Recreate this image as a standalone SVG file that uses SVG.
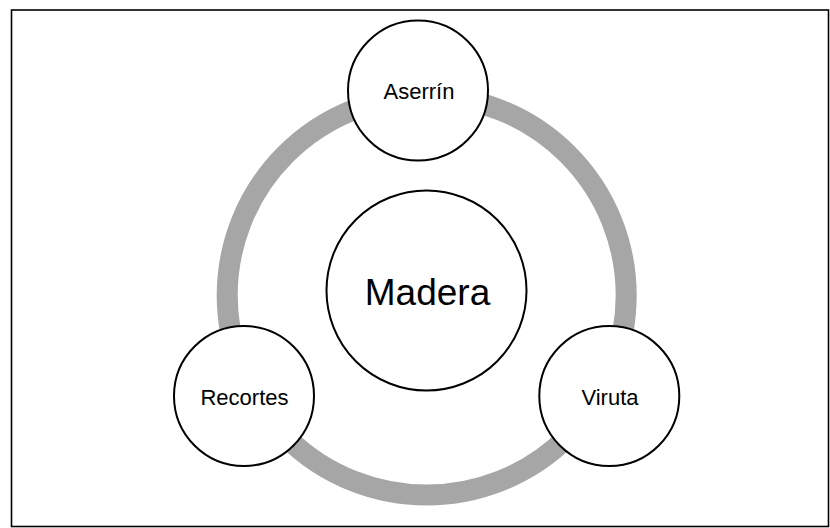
<svg xmlns="http://www.w3.org/2000/svg" width="830" height="528" viewBox="0 0 830 528">
  <style>
    .node { fill: #FFFFFF; stroke: #000000; stroke-width: 2; }
    .lbl { font-family: "Liberation Sans", Arial, sans-serif; fill: #000000; text-anchor: middle; }
    .sm { font-size: 22px; }
    .lg { font-size: 37px; }
  </style>
  <rect x="0" y="0" width="830" height="528" fill="#FFFFFF"/>
  <rect x="11.5" y="10" width="817" height="516.5" fill="none" stroke="#000000" stroke-width="1.6"/>
  <g id="connectors">
    <circle cx="426.7" cy="295.5" r="199.5" fill="none" stroke="#A6A6A6" stroke-width="21"/>
  </g>
  <g id="madera">
    <circle class="node" cx="426.5" cy="290.5" r="100"/>
    <text class="lbl lg" x="427.5" y="305">Madera</text>
  </g>
  <g id="aserrin">
    <circle class="node" cx="418" cy="90.5" r="70"/>
    <text class="lbl sm" x="419" y="99">Aserrín</text>
  </g>
  <g id="recortes">
    <circle class="node" cx="244" cy="396" r="70"/>
    <text class="lbl sm" x="244.5" y="405">Recortes</text>
  </g>
  <g id="viruta">
    <circle class="node" cx="609.3" cy="396" r="70"/>
    <text class="lbl sm" x="610" y="405">Viruta</text>
  </g>
</svg>
